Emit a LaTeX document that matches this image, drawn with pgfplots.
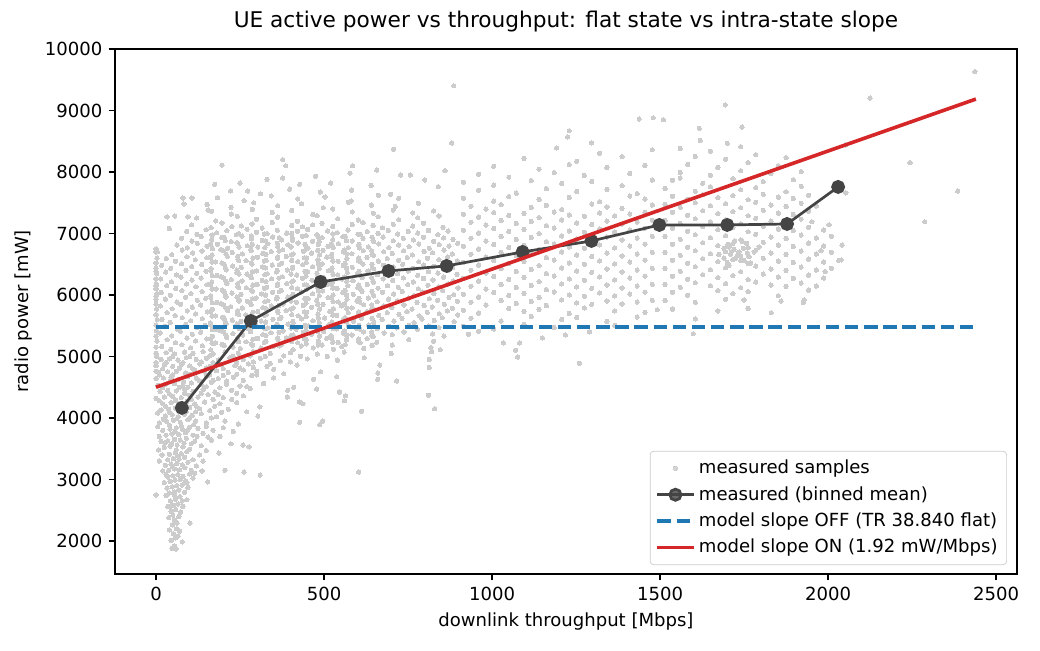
\documentclass[border=0pt]{standalone}
\usepackage{fontspec}
\setmainfont{DejaVu Sans}
\usepackage{pgfplots}
\pgfplotsset{compat=1.18}
\definecolor{samp}{HTML}{CCCCCC}
\definecolor{binc}{HTML}{444444}
\definecolor{mblue}{HTML}{1F77B4}
\definecolor{mred}{HTML}{D62728}
\begin{document}
\begin{tikzpicture}
\useasboundingbox (-63.7pt,-42.1pt) rectangle (512.3pt,317.9pt);
\begin{axis}[
  at={(0,0)}, anchor=south west,
  scale only axis, width=499.5pt, height=290.8pt,
  xmin=-122, xmax=2562, ymin=1463, ymax=10000,
  clip marker paths=true,
  xtick={0,500,1000,1500,2000,2500},
  ytick={2000,3000,4000,5000,6000,7000,8000,9000,10000},
  scaled ticks=false,
  /pgf/number format/assume math mode=true,
  /pgf/number format/1000 sep={},
  tick align=outside, tick pos=left,
  major tick length=3.5pt,
  every tick/.style={black, line width=0.8pt},
  axis line style={line width=0.8pt},
  tick label style={font=\fontsize{10}{12}\selectfont},
  label style={font=\fontsize{10}{12}\selectfont},
  title style={font=\fontsize{12}{14}\selectfont},
  title={UE active power vs throughput: flat state vs intra-state slope},
  xlabel={downlink throughput [Mbps]},
  ylabel={radio power [mW]},
  legend cell align=left,
  legend image code/.code={\draw[mark repeat=2,mark phase=2,#1] plot coordinates {(0pt,0pt) (10pt,0pt) (20pt,0pt)};},
  legend style={at={(0.989,0.017)}, anchor=south east, draw=black!20, rounded corners=2pt,
    fill=white, fill opacity=0.8, text opacity=1, font=\fontsize{10}{12}\selectfont,
    row sep=1.5pt, inner sep=3pt},
]
\addplot[only marks, mark=*, mark size=1.2pt, color=samp, mark options={draw=samp, fill=samp, line width=0pt}] coordinates {
(48,1880) (55,1920) (60,1870) (78,1985) (45,2010) (58,2050) (52,2120) (66,2080) (40,2180) (61,2200) (70,2160) (49,2260) (63,2290) (101,2290) (55,2340)
(38,2380) (50,2420) (68,2400) (45,2480) (59,2510) (73,2470) (35,2560) (52,2580) (66,2600) (80,2560) (43,2650) (58,2680) (92,2670) (0,2750) (71,2720) (30,2740)
(40,2780) (55,2800) (68,2830) (85,2790) (33,2860) (48,2880) (62,2900) (78,2910) (95,2870) (25,2950) (42,2970) (57,2990) (72,3000) (88,2980) (154,2960) (110,3020) (35,3040) (50,3060) (65,3080) (80,3050) (100,3090) (137,3140)
(20,3140) (38,3150) (55,3170) (70,3160) (86,3190) (105,3150) (28,3230) (45,3250) (62,3260) (78,3240) (95,3280) (120,3220) (205,3150) (262,3120) (310,3070) (603,3120) (35,3320) (52,3340) (68,3330) (85,3360) (110,3320) (18,3400) (40,3410) (58,3430) (75,3420) (92,3450) (130,3400) (187,3430) (60,3480) (100,3490) (150,3470)
(25,3520) (42,3540) (63,3560) (80,3530) (105,3580) (135,3550) (223,3580) (259,3560) (277,3530) (15,3620) (35,3630) (55,3650) (72,3640) (90,3670) (115,3620) (165,3640) (30,3720) (48,3740) (68,3730) (88,3760) (110,3720) (140,3750) (190,3700) (20,3800) (42,3820) (60,3840) (80,3810) (100,3850) (125,3830) (170,3800) (230,3780)
(10,3920) (32,3940) (52,3960) (72,3930) (95,3970) (118,3950) (150,3920) (205,3950) (245,3900) (28,4030) (48,4050) (66,4020) (85,4060) (108,4040) (135,4070) (180,4020) (303,4030) (428,3930) (487,3890) (496,3950) (15,4130) (38,4140) (58,4160) (78,4130) (100,4170) (130,4150) (160,4120) (215,4140) (270,4100) (612,4110) (829,4150) (20,4230) (45,4250) (70,4240) (92,4270) (115,4230) (145,4260) (190,4230) (240,4250) (437,4230) (427,4260) (561,4280)
(0,4320) (25,4340) (50,4350) (75,4330) (98,4370) (125,4340) (155,4380) (200,4330) (260,4360) (309,4180) (391,4340) (564,4360) (811,4370) (12,4430) (35,4450) (60,4440) (85,4470) (110,4430) (140,4460) (175,4420) (225,4450) (280,4480) (392,4450) (546,4420) (478,4470) (410,4500) (5,4530) (30,4550) (55,4560) (80,4530) (105,4570) (135,4540) (165,4580) (210,4550) (250,4520) (320,4560) (0,4640) (22,4650) (45,4660) (68,4630) (95,4670) (120,4650) (150,4680) (185,4640) (230,4660) (285,4690) (350,4650) (469,4630) (538,4670) (660,4630) (716,4600)
(8,4740) (35,4750) (60,4760) (88,4730) (115,4780) (145,4750) (180,4770) (215,4740) (260,4780) (300,4760) (380,4720) (490,4750) (660,4730) (0,4850) (25,4860) (50,4840) (75,4870) (100,4850) (130,4880) (160,4840) (195,4870) (235,4850) (275,4880) (330,4840) (420,4860) (666,4860) (813,4820) (15,4950) (40,4960) (65,4940) (90,4980) (120,4950) (150,4970) (185,4940) (220,4980) (260,4950) (310,4970) (370,4930) (450,4960) (540,4940) (620,4980) (813,4950) (0,5050) (30,5060) (55,5040) (85,5070) (110,5050) (140,5080) (170,5040) (205,5070) (245,5050) (290,5080) (340,5050) (400,5060) (480,5040) (560,5070) (700,5050) (820,5080)
(8,3480) (28,3600) (47,3580) (83,3590) (122,3700) (155,3690) (10,3700) (57,3780) (92,3790) (150,3860) (200,3840) (5,3860) (40,3880) (75,3870) (112,3890) (22,3980) (62,3990) (100,4000) (165,4000) (5,4080) (40,4090) (90,4100) (118,4100) (195,4090) (28,4190) (85,4200) (120,4190) (175,4190) (10,4280) (58,4290) (105,4300) (170,4300) (225,4300) (40,4390) (85,4400) (135,4400) (185,4380) (240,4400) (20,4490) (70,4500) (95,4500) (150,4510) (190,4490) (270,4510) (42,4600) (82,4590) (130,4600) (170,4610) (210,4600) (260,4610) (10,4700) (50,4700) (100,4710) (160,4700) (200,4690) (240,4710) (300,4700) (20,4800) (70,4810) (110,4800) (150,4810) (200,4800) (250,4810) (290,4820) (350,4790) (30,4900) (80,4900) (135,4910) (170,4900) (240,4900) (290,4910) (340,4890) (400,4910) (50,5000) (100,5000) (160,5010) (230,5000) (280,5010) (325,5000) (380,5010) (430,5000) (510,5000) (60,2300) (42,2550) (78,2650) (55,2750) (92,2950) (30,3080) (115,3100) (50,3200) (140,3300) (10,3300) (65,3380)
(0,4760) (0,4900) (2,5000) (0,5150) (3,5250) (0,5330) (1,5420) (0,5510) (4,5600) (0,5680) (2,5770) (0,5850) (0,5930) (3,6020) (0,6100) (1,6180) (0,6260) (2,6350) (0,6430) (0,6520) (3,6600) (0,6700) (0,6750) (0,6380) (0,6150) (0,5980)
(17,5162) (44,5115) (77,5190) (103,5142) (138,5175) (163,5108) (196,5198) (229,5150) (251,5128) (288,5182) (312,5135) (349,5165) (373,5195) (408,5112) (432,5170) (468,5140) (494,5185) (528,5118) (553,5160) (618,5130) (703,5185) (818,5145) (846,5110)
(33,5272) (58,5225) (92,5300) (118,5252) (151,5285) (177,5218) (210,5308) (244,5258) (268,5238) (302,5292) (327,5245) (363,5275) (388,5305) (422,5222) (447,5280) (483,5250) (508,5295) (542,5228) (567,5270) (603,5240) (628,5290) (657,5230) (752,5275) (826,5248)
(12,5382) (47,5335) (72,5410) (108,5362) (133,5395) (168,5328) (192,5418) (229,5370) (258,5348) (281,5402) (318,5355) (342,5385) (378,5415) (401,5332) (438,5390) (462,5360) (499,5405) (521,5338) (558,5380) (583,5350) (618,5400) (642,5340) (679,5382) (703,5355) (738,5398) (823,5365) (857,5330)
(27,5492) (63,5445) (88,5520) (122,5472) (147,5505) (183,5438) (208,5528) (243,5480) (272,5458) (297,5512) (333,5465) (358,5495) (393,5525) (417,5442) (453,5500) (477,5470) (514,5515) (538,5448) (573,5490) (597,5460) (633,5510) (658,5450) (693,5492) (717,5465) (753,5508) (778,5440) (812,5495) (842,5470)
(18,5602) (42,5555) (78,5630) (103,5582) (138,5615) (162,5548) (198,5638) (227,5590) (252,5568) (289,5622) (313,5575) (348,5605) (372,5635) (408,5552) (433,5610) (467,5580) (502,5625) (523,5558) (557,5600) (588,5570) (612,5620) (648,5560) (673,5602) (708,5575) (732,5618) (768,5550) (792,5608) (828,5585) (852,5630) (887,5565)
(33,5712) (57,5665) (93,5740) (118,5692) (153,5725) (177,5658) (213,5748) (242,5700) (267,5678) (303,5732) (328,5685) (363,5715) (387,5745) (423,5662) (448,5720) (482,5690) (517,5735) (538,5668) (572,5710) (603,5680) (627,5730) (663,5670) (688,5712) (723,5685) (747,5728) (783,5660) (807,5718) (843,5695) (867,5740) (898,5675)
(13,5822) (48,5775) (73,5850) (108,5802) (133,5835) (168,5768) (193,5858) (222,5810) (257,5788) (283,5842) (318,5795) (343,5825) (378,5855) (402,5772) (438,5830) (463,5800) (497,5845) (528,5778) (552,5820) (583,5790) (618,5840) (642,5780) (678,5822) (702,5795) (738,5838) (762,5770) (798,5828) (822,5805) (858,5850) (882,5785)
(28,5932) (62,5885) (88,5960) (123,5912) (148,5945) (182,5878) (208,5968) (247,5920) (272,5898) (298,5952) (333,5905) (358,5935) (392,5965) (418,5882) (453,5940) (478,5910) (512,5955) (543,5888) (568,5930) (598,5900) (632,5950) (658,5890) (692,5932) (718,5905) (752,5948) (777,5880) (813,5938) (838,5915) (872,5960) (897,5895)
(16,6042) (43,5995) (77,6070) (104,6022) (137,6055) (163,5988) (197,6078) (226,6030) (253,6008) (287,6062) (314,6015) (347,6045) (373,6075) (407,5992) (434,6050) (466,6020) (496,6065) (527,5998) (556,6040) (587,6010) (613,6060) (647,6000) (674,6042) (707,6015) (733,6058) (767,5990) (793,6048) (827,6025) (853,6070) (886,6005)
(32,6152) (59,6105) (91,6180) (119,6132) (152,6165) (179,6098) (211,6188) (243,6140) (269,6118) (301,6172) (329,6125) (361,6155) (389,6185) (421,6102) (449,6160) (481,6130) (511,6175) (539,6108) (571,6150) (601,6120) (629,6170) (661,6110) (689,6152) (721,6125) (749,6168) (781,6100) (809,6158) (841,6135) (869,6180) (899,6115)
(14,6262) (46,6215) (74,6290) (107,6242) (134,6275) (166,6208) (194,6298) (224,6250) (256,6228) (284,6282) (316,6235) (344,6265) (376,6295) (404,6212) (436,6270) (464,6240) (498,6285) (526,6218) (554,6260) (586,6230) (614,6280) (646,6220) (676,6262) (704,6235) (736,6278) (766,6210) (796,6268) (824,6245) (856,6290) (884,6225)
(29,6372) (61,6325) (89,6400) (121,6352) (149,6385) (181,6318) (209,6408) (241,6360) (271,6338) (299,6392) (331,6345) (359,6375) (391,6405) (419,6322) (451,6380) (479,6350) (513,6395) (541,6328) (569,6370) (599,6340) (631,6390) (659,6330) (691,6372) (719,6345) (751,6388) (779,6320) (811,6378) (839,6355) (871,6400) (896,6335)
(17,6482) (44,6435) (76,6510) (106,6462) (136,6495) (164,6428) (196,6518) (228,6470) (254,6448) (286,6502) (317,6455) (346,6485) (374,6515) (406,6432) (437,6490) (466,6460) (494,6505) (524,6438) (557,6480) (584,6450) (616,6500) (644,6440) (677,6482) (706,6455) (734,6498) (764,6430) (797,6488) (826,6465) (854,6510) (883,6445)
(31,6592) (58,6545) (92,6620) (117,6572) (151,6605) (178,6538) (212,6628) (244,6580) (268,6558) (302,6612) (328,6565) (362,6595) (388,6625) (422,6542) (448,6600) (482,6570) (508,6615) (542,6548) (568,6590) (602,6560) (628,6610) (662,6550) (688,6592) (722,6565) (748,6608) (782,6540) (808,6598) (842,6575) (868,6620) (897,6555)
(4,6702) (47,6655) (78,6730) (109,6682) (137,6715) (167,6648) (193,6738) (227,6690) (257,6668) (283,6722) (318,6675) (343,6705) (377,6735) (403,6652) (438,6710) (463,6680) (497,6725) (523,6658) (558,6700) (583,6670) (617,6720) (643,6660) (678,6702) (703,6675) (737,6718) (763,6650) (798,6708) (823,6685) (857,6730) (882,6665)
(62,6812) (93,6765) (123,6840) (152,6792) (183,6825) (213,6758) (242,6848) (272,6800) (303,6778) (333,6832) (362,6785) (393,6815) (423,6845) (452,6762) (483,6820) (512,6790) (543,6835) (572,6768) (603,6810) (632,6780) (663,6830) (693,6770) (722,6812) (753,6785) (782,6828) (813,6760) (843,6818) (872,6795) (898,6840)
(76,6922) (107,6875) (134,6950) (166,6902) (196,6935) (224,6868) (256,6958) (284,6910) (316,6888) (347,6942) (374,6895) (406,6925) (436,6955) (466,6872) (494,6930) (526,6900) (556,6945) (584,6878) (616,6920) (646,6890) (676,6940) (706,6880) (736,6922) (766,6895) (796,6938) (826,6870) (856,6928) (884,6905)
(91,7032) (122,6985) (149,7060) (181,7012) (211,7045) (239,6978) (271,7068) (299,7020) (331,6998) (361,7052) (389,7005) (421,7035) (451,7065) (479,6982) (511,7040) (539,7010) (571,7055) (601,6988) (629,7030) (661,7000) (691,7050) (719,6990) (751,7032) (779,7005) (811,7048) (839,6980) (869,7038) (40,7080)
(106,7142) (164,7095) (196,7170) (254,7122) (286,7155) (316,7088) (346,7178) (404,7130) (436,7108) (494,7162) (526,7115) (584,7145) (616,7175) (674,7092) (706,7150) (764,7120) (796,7165) (854,7098) (226,7110) (466,7140) (646,7130)
(121,7252) (178,7205) (242,7280) (299,7232) (362,7265) (421,7198) (479,7288) (541,7240) (602,7218) (661,7272) (722,7225) (779,7255) (842,7285) (33,7270) (56,7285) (95,7270)
(166,7362) (224,7315) (287,7390) (346,7342) (404,7375) (467,7308) (526,7398) (584,7350) (647,7328) (706,7382) (764,7335) (826,7365) (155,7380)
(152,7472) (223,7425) (291,7500) (362,7452) (433,7485) (498,7418) (572,7508) (641,7460) (712,7438) (781,7492) (83,7480)
(183,7582) (262,7535) (343,7610) (422,7562) (503,7595) (581,7528) (662,7618) (722,7570) (80,7577) (107,7577)
(222,7692) (311,7645) (398,7720) (489,7672) (582,7705) (698,7638) (273,7690)
(175,7800) (250,7820) (196,8110) (377,8200) (386,8100) (377,7900) (428,7800) (475,7930) (585,8100) (577,7980) (657,8030) (707,8370) (728,7950) (757,7950) (520,7820) (800,7870) (880,8470) (886,9400) (330,7880) (640,7780) (840,7760) (860,8020)
(167,5215) (203,5180) (246,5238) (284,5198) (322,5225) (367,5172) (404,5240) (447,5205) (483,5185) (526,5230) (563,5190) (608,5222) (643,5178)
(162,5290) (208,5345) (243,5305) (288,5280) (327,5338) (362,5300) (408,5348) (442,5285) (487,5330) (523,5295) (568,5342) (603,5283) (647,5325)
(168,5435) (201,5398) (247,5458) (282,5420) (324,5450) (366,5392) (402,5460) (446,5425) (481,5405) (527,5452) (561,5412) (606,5445) (642,5398)
(163,5510) (206,5565) (241,5525) (287,5500) (326,5558) (361,5520) (407,5568) (443,5505) (486,5550) (522,5515) (567,5562) (604,5503) (648,5545)
(167,5655) (203,5618) (246,5678) (284,5640) (322,5670) (367,5612) (404,5680) (447,5645) (483,5625) (526,5672) (563,5632) (608,5665) (643,5618)
(162,5730) (208,5785) (243,5745) (288,5720) (327,5778) (362,5740) (408,5788) (442,5725) (487,5770) (523,5735) (568,5782) (603,5723) (647,5765)
(168,5875) (201,5838) (247,5898) (282,5860) (324,5890) (366,5832) (402,5900) (446,5865) (481,5845) (527,5892) (561,5852) (606,5885) (642,5838)
(163,5950) (206,6005) (241,5965) (287,5940) (326,5998) (361,5960) (407,6008) (443,5945) (486,5990) (522,5955) (567,6002) (604,5943) (648,5985)
(167,6095) (203,6058) (246,6118) (284,6080) (322,6110) (367,6052) (404,6120) (447,6085) (483,6065) (526,6112) (563,6072) (608,6105) (643,6058)
(162,6170) (208,6225) (243,6185) (288,6160) (327,6218) (362,6180) (408,6228) (442,6165) (487,6210) (523,6175) (568,6222) (603,6163) (647,6205)
(168,6315) (201,6278) (247,6338) (282,6300) (324,6330) (366,6272) (402,6340) (446,6305) (481,6285) (527,6332) (561,6292) (606,6325) (642,6278)
(163,6390) (206,6445) (241,6405) (287,6380) (326,6438) (361,6400) (407,6448) (443,6385) (486,6430) (522,6395) (567,6442) (604,6383) (648,6425)
(167,6535) (203,6498) (246,6558) (284,6520) (322,6550) (367,6492) (404,6560) (447,6525) (483,6505) (526,6552) (563,6512) (608,6545) (643,6498)
(162,6610) (208,6665) (243,6625) (288,6600) (327,6658) (362,6620) (408,6668) (442,6605) (487,6650) (523,6615) (568,6662) (603,6603) (647,6645)
(168,6755) (201,6718) (247,6778) (282,6740) (324,6770) (366,6712) (402,6780) (446,6745) (481,6725) (527,6772) (561,6732) (606,6765) (642,6718)
(163,6830) (206,6885) (241,6845) (287,6820) (326,6878) (361,6840) (407,6888) (443,6825) (486,6870) (522,6835) (567,6882) (604,6823) (648,6865)
(167,6975) (203,6938) (246,6998) (284,6960) (322,6990) (367,6932) (404,7000) (447,6965) (483,6945) (526,6992) (563,6952) (608,6985) (643,6938)
(930,5360) (1034,5220) (1082,5220) (1218,5350) (1290,5400) (1076,4990) (1070,5100) (1260,4890) (1150,5300)
(915,5492) (1005,5445) (1095,5520) (1185,5472) (1365,5505) (960,5410)
(937,5622) (1027,5575) (1117,5650) (1207,5602) (1252,5635) (1342,5568) (1432,5640)
(915,5752) (960,5705) (1050,5780) (1095,5732) (1140,5765) (1230,5698) (1275,5788) (1365,5740) (1455,5718)
(937,5882) (982,5835) (1027,5910) (1072,5862) (1117,5895) (1162,5828) (1207,5918) (1252,5870) (1297,5848) (1342,5902) (1387,5855) (1432,5885) (1477,5915)
(915,6012) (960,5965) (1005,6040) (1050,5992) (1095,6025) (1140,5958) (1185,6048) (1230,6000) (1275,5978) (1320,6032) (1365,5985) (1410,6015) (1455,6045)
(937,6142) (982,6095) (1027,6170) (1072,6122) (1117,6155) (1162,6088) (1207,6178) (1252,6130) (1297,6108) (1342,6162) (1387,6115) (1432,6145) (1477,6175)
(915,6272) (960,6225) (1005,6300) (1050,6252) (1095,6285) (1140,6218) (1185,6308) (1230,6260) (1275,6238) (1320,6292) (1365,6245) (1410,6275) (1455,6305)
(937,6402) (982,6355) (1027,6430) (1072,6382) (1117,6415) (1162,6348) (1207,6438) (1252,6390) (1297,6368) (1342,6422) (1387,6375) (1432,6405) (1477,6435)
(915,6532) (960,6485) (1005,6560) (1050,6512) (1095,6545) (1140,6478) (1185,6568) (1230,6520) (1275,6498) (1320,6552) (1365,6505) (1410,6535) (1455,6565)
(937,6662) (982,6615) (1027,6690) (1072,6642) (1117,6675) (1162,6608) (1207,6698) (1252,6650) (1297,6628) (1342,6682) (1387,6635) (1432,6665) (1477,6695)
(915,6792) (960,6745) (1005,6820) (1050,6772) (1095,6805) (1140,6738) (1185,6828) (1230,6780) (1275,6758) (1320,6812) (1365,6765) (1410,6795) (1455,6825)
(937,6922) (982,6875) (1027,6950) (1072,6902) (1117,6935) (1162,6868) (1207,6958) (1252,6910) (1297,6888) (1342,6942) (1387,6895) (1432,6925) (1477,6955)
(915,7052) (960,7005) (1005,7080) (1050,7032) (1095,7065) (1140,6998) (1185,7088) (1230,7040) (1275,7018) (1320,7072) (1365,7025) (1410,7055) (1455,7085)
(937,7182) (982,7135) (1027,7210) (1072,7162) (1117,7195) (1162,7128) (1207,7218) (1252,7170) (1297,7148) (1342,7202) (1387,7155) (1432,7185) (1477,7215)
(915,7312) (960,7265) (1005,7340) (1050,7292) (1095,7325) (1140,7258) (1185,7348) (1230,7300) (1275,7278) (1320,7332) (1365,7285) (1410,7315) (1455,7345)
(937,7442) (982,7395) (1027,7470) (1117,7422) (1162,7455) (1207,7388) (1297,7478) (1342,7430) (1387,7408) (1477,7462)
(915,7572) (1005,7525) (1050,7600) (1140,7552) (1230,7585) (1320,7518) (1410,7608) (1455,7560)
(960,7702) (1072,7655) (1162,7730) (1252,7682) (1342,7715) (1432,7648)
(915,7832) (1005,7785) (1117,7860) (1207,7812) (1297,7845) (1387,7778) (1477,7868)
(960,7962) (1050,7915) (1185,7990) (1275,7942) (1410,7975)
(1005,8092) (1140,8045) (1230,8120) (1342,8072) (1455,8105)
(1095,8222) (1252,8175) (1387,8250) (1192,8390) (1320,8305) (1477,8360)
(1230,8670) (1225,8570) (1296,8470) (1438,8860) (1480,8880) (1510,8850)
(1599,5370) (1605,5610) (1492,5760) (1537,5770) (1672,5740) (1762,5780) (1831,5710) (1929,5920) (1515,5910) (1605,5880) (1695,5930) (1750,5920) (1860,5900) (1926,5880)
(1537,6042) (1582,5995) (1672,6070) (1717,6022) (1762,6055) (1852,5988) (1942,6078)
(1515,6172) (1560,6125) (1605,6200) (1650,6152) (1695,6185) (1740,6118) (1785,6208) (1830,6160) (1875,6138) (1920,6192) (1965,6145)
(1537,6302) (1582,6255) (1627,6330) (1672,6282) (1717,6315) (1762,6248) (1807,6338) (1852,6290) (1897,6268) (1942,6322) (1987,6275)
(1515,6432) (1560,6385) (1605,6460) (1650,6412) (1695,6445) (1740,6378) (1785,6468) (1830,6420) (1875,6398) (1920,6452) (1965,6405) (2010,6435) (1991,6380)
(1537,6562) (1582,6515) (1627,6590) (1672,6542) (1717,6575) (1762,6508) (1807,6598) (1852,6550) (1897,6528) (1942,6582) (1987,6535) (2032,6565) (1700,6530) (1725,6600) (1750,6560) (2039,6570)
(1515,6692) (1560,6645) (1605,6720) (1650,6672) (1695,6705) (1740,6638) (1785,6728) (1830,6680) (1875,6658) (1920,6712) (1965,6665) (2010,6695) (1710,6660) (1735,6700) (1760,6680) (1720,6740) (1979,6720)
(1537,6822) (1582,6775) (1627,6850) (1672,6802) (1717,6835) (1762,6768) (1807,6858) (1852,6810) (1897,6788) (1942,6842) (1987,6795) (1705,6780) (1745,6870) (2042,6810)
(1690,6600) (1712,6700) (1730,6640) (1748,6760) (1765,6620) (1780,6700) (1702,6820) (1722,6880) (1740,6560) (1690,6760) (1758,6840) (1675,6660) (1795,6780) (1705,6480) (1770,6520)
(1515,6952) (1560,6905) (1605,6980) (1650,6932) (1695,6965) (1740,6898) (1785,6988) (1830,6940) (1875,6918) (1920,6972) (1965,6925) (2010,6955)
(1537,7082) (1582,7035) (1627,7110) (1672,7062) (1717,7095) (1762,7028) (1807,7118) (1852,7070) (1897,7048) (1942,7102) (1987,7055)
(1515,7212) (1560,7165) (1605,7240) (1650,7192) (1695,7225) (1740,7158) (1785,7248) (1830,7200) (1875,7178) (1920,7232) (1952,7190) (2003,7140)
(1537,7342) (1582,7295) (1627,7370) (1672,7322) (1717,7355) (1762,7288) (1807,7378) (1852,7330) (1897,7308) (1942,7362)
(1515,7472) (1560,7425) (1605,7500) (1650,7452) (1695,7485) (1740,7418) (1785,7508) (1830,7460) (1875,7438) (1920,7492) (1965,7445)
(1537,7602) (1582,7555) (1627,7630) (1672,7582) (1717,7615) (1762,7548) (1807,7638) (1852,7590) (1897,7568) (1942,7622)
(1515,7732) (1605,7685) (1650,7760) (1740,7712) (1785,7745) (1875,7678) (1920,7768) (2053,7660)
(1537,7862) (1627,7815) (1717,7890) (1807,7842) (1897,7875) (1560,7900)
(1560,7992) (1650,7945) (1740,8020) (1830,7972) (1920,8005)
(1582,8122) (1672,8075) (1762,8150) (1852,8102)
(1605,8252) (1695,8205) (1785,8280) (1875,8232) (2053,8440)
(1560,8382) (1650,8335) (1740,8410)
(1620,8512) (1700,8465) (1617,8710) (1744,8730) (1694,9090)
(2125,9200) (2244,8150) (2386,7690) (2288,7190) (2437,9630)
};
\addlegendentry{measured samples}
\addplot[color=binc, line width=1.5pt, mark=*, mark size=3.1pt, mark options={fill=binc, draw=binc}] coordinates {
(77,4163) (282,5577) (490,6211) (692,6390) (865,6472) (1091,6699) (1296,6878) (1498,7138) (1700,7138) (1878,7154) (2030,7756)
};
\addlegendentry{measured (binned mean)}
\addplot[color=mblue, line width=2pt, dash pattern=on 7.4pt off 3.2pt] coordinates {(0,5480) (2440,5480)};
\addlegendentry{model slope OFF (TR 38.840 flat)}
\addplot[color=mred, line width=2pt] coordinates {(0,4500) (2440,9185)};
\addlegendentry{model slope ON (1.92 mW/Mbps)}
\end{axis}
\end{tikzpicture}
\end{document}
